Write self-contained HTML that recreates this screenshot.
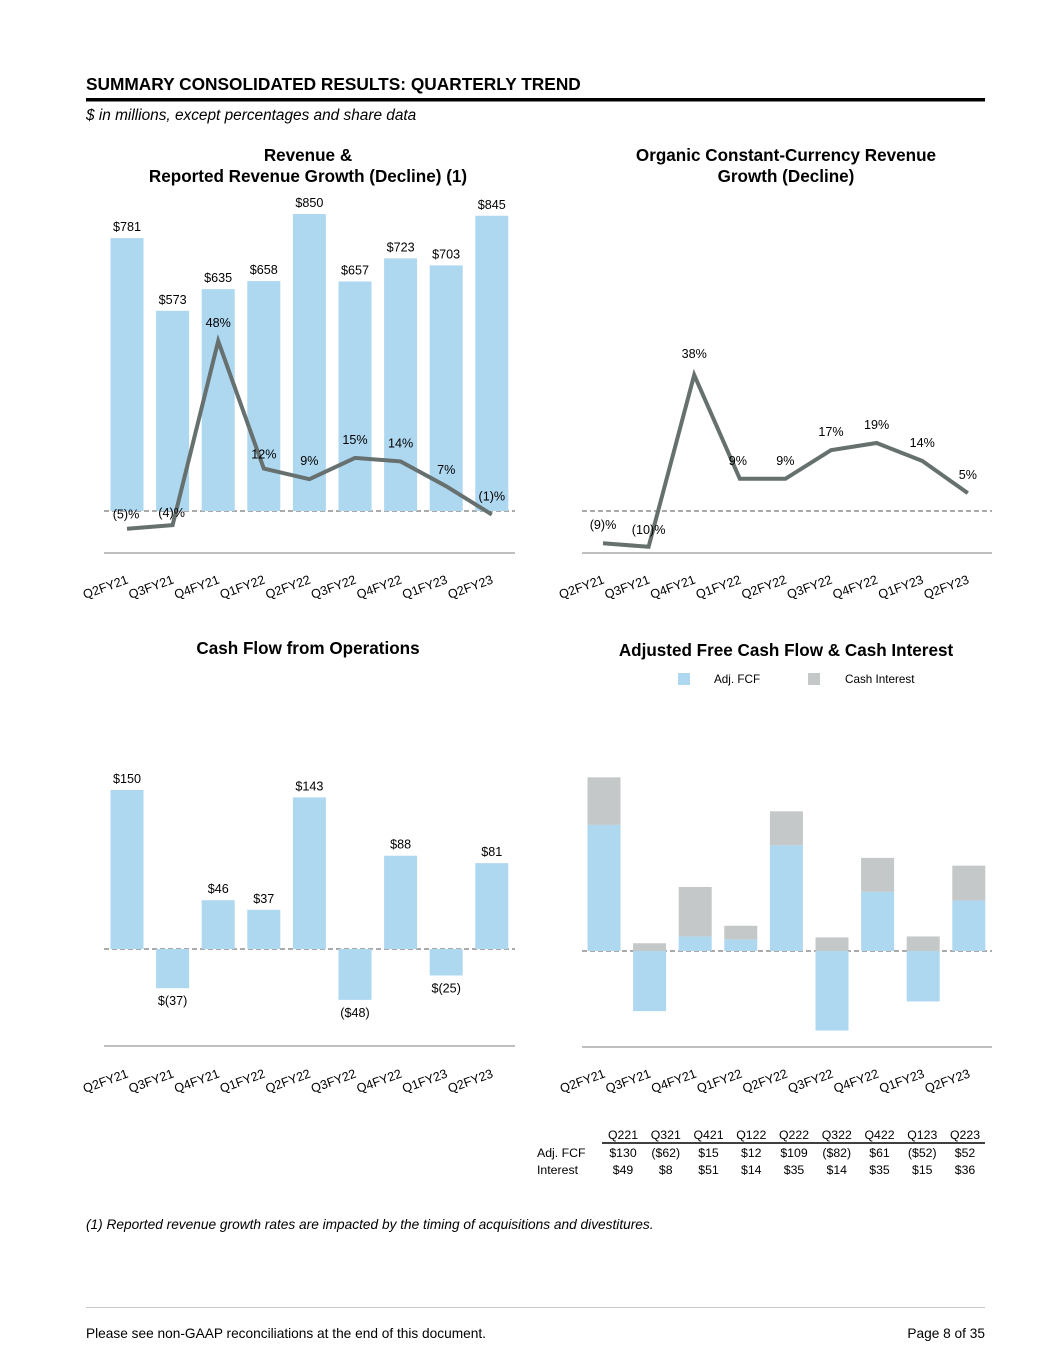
<!DOCTYPE html>
<html><head><meta charset="utf-8">
<style>
body{margin:0;background:#fff;}
svg{display:block;font-family:"Liberation Sans",Arial,sans-serif;}
</style></head>
<body>
<svg id="page" width="1055" height="1365" viewBox="0 0 1055 1365" xmlns="http://www.w3.org/2000/svg">
<text x="86" y="90" font-size="17.3" font-weight="bold" fill="#000">SUMMARY CONSOLIDATED RESULTS: QUARTERLY TREND</text>
<rect x="86" y="98" width="899" height="3.5" fill="#000"/>
<text x="86" y="120" font-size="15.4" font-style="italic" fill="#000">$ in millions, except percentages and share data</text>

<text x="308" y="161" font-size="17.1" font-weight="bold" text-anchor="middle">Revenue &amp;</text>
<text x="308" y="182" font-size="17.1" font-weight="bold" text-anchor="middle">Reported Revenue Growth (Decline) (1)</text>
<text x="786" y="161" font-size="17.1" font-weight="bold" text-anchor="middle">Organic Constant-Currency Revenue</text>
<text x="786" y="182" font-size="17.1" font-weight="bold" text-anchor="middle">Growth (Decline)</text>
<text x="308" y="654" font-size="17.1" font-weight="bold" text-anchor="middle">Cash Flow from Operations</text>
<text x="786" y="656" font-size="17.1" font-weight="bold" text-anchor="middle">Adjusted Free Cash Flow &amp; Cash Interest</text>

<rect x="678" y="673" width="12" height="12" fill="#aed7f0"/>
<text x="714" y="683" font-size="11.7">Adj. FCF</text>
<rect x="808" y="673" width="12" height="12" fill="#c4c8c8"/>
<text x="845" y="683" font-size="11.7">Cash Interest</text>

<g id="c1"></g>
<g id="c2"></g>
<g id="c3"></g>
<g id="c4"></g>
<g id="tbl"></g>

<text x="86" y="1229" font-size="13.7" font-style="italic">(1) Reported revenue growth rates are impacted by the timing of acquisitions and divestitures.</text>
<rect x="86" y="1307" width="899" height="1" fill="#c8c8c8"/>
<text x="86" y="1338" font-size="13.7">Please see non-GAAP reconciliations at the end of this document.</text>
<text x="985" y="1338" font-size="13.7" text-anchor="end">Page 8 of 35</text>
</svg>
<script>
const quarters = ["Q2FY21","Q3FY21","Q4FY21","Q1FY22","Q2FY22","Q3FY22","Q4FY22","Q1FY23","Q2FY23"];
const revenue = [781,573,635,658,850,657,723,703,845];
const revenueLabels = ["$781","$573","$635","$658","$850","$657","$723","$703","$845"];
const reportedGrowth = [-5,-4,48,12,9,15,14,7,-1];
const reportedGrowthLabels = ["(5)%","(4)%","48%","12%","9%","15%","14%","7%","(1)%"];
const organicGrowth = [-9,-10,38,9,9,17,19,14,5];
const organicGrowthLabels = ["(9)%","(10)%","38%","9%","9%","17%","19%","14%","5%"];
const cfo = [150,-37,46,37,143,-48,88,-25,81];
const cfoLabels = ["$150","$(37)","$46","$37","$143","($48)","$88","$(25)","$81"];
const tableCols = ["Q221","Q321","Q421","Q122","Q222","Q322","Q422","Q123","Q223"];
const adjFcf = [130,-62,15,12,109,-82,61,-52,52];
const cashInterest = [49,8,51,14,35,14,35,15,36];

const NS="http://www.w3.org/2000/svg";
function mk(parent,tag,attrs,txt){const e=document.createElementNS(NS,tag);for(const k in attrs)e.setAttribute(k,attrs[k]);if(txt!==undefined)e.textContent=txt;parent.appendChild(e);return e;}
const BLUE="#aed7f0",GREY="#c4c8c8",LINE="#66706e";
function xAt(x0,i){return x0+i*45.6;}
function fmt(v){return v<0?"($"+(-v)+")":"$"+v;}

function axes(g,x0,zeroY,axisY,left,right,labelY){
  let z=mk(g,"line",{x1:left,x2:right,y1:zeroY,y2:zeroY,stroke:"#555","stroke-width":1,"stroke-dasharray":"5,3"});
  
  
  let a=mk(g,"line",{x1:left,x2:right,y1:axisY,y2:axisY,stroke:"#aaa","stroke-width":1.5});
  
  
  quarters.forEach((q,i)=>{const cx=xAt(x0,i);
    let t=mk(g,"text",{x:cx+2,y:labelY,"font-size":12.6,"text-anchor":"end",transform:`rotate(-20 ${cx+2} ${labelY})`},q);
    
    
  });
}
function bars(g,x0,zeroY,scale,vals,labs){
  vals.forEach((v,i)=>{const cx=xAt(x0,i),h=Math.abs(v)*scale,y=v>=0?zeroY-h:zeroY;
    let r=mk(g,"rect",{x:cx-16.5,y:y,width:33,height:h,fill:BLUE});
    
    
    if(labs){let ly=v>=0?y-7:y+h+17;
      let t=mk(g,"text",{x:cx,y:ly,"font-size":12.6,"text-anchor":"middle"},labs[i]);
      
      }
  });
}
function line(g,x0,zeroY,scale,vals,labs,offs){
  const pts=vals.map((v,i)=>[xAt(x0,i),zeroY-v*scale]);
  let p=mk(g,"polyline",{points:pts.map(p=>p.join(",")).join(" "),fill:"none",stroke:LINE,"stroke-width":4,"stroke-linejoin":"miter"});
  
  
  pts.forEach((pt,i)=>{const o=offs[i];
    let t=mk(g,"text",{x:pt[0]+o[0],y:pt[1]+o[1],"font-size":12.6,"text-anchor":"middle"},labs[i]);
    
    });
}
// Chart 1
const g1=document.getElementById("c1");
axes(g1,127,511,553,104,515,583);
bars(g1,127,511,0.3494,revenue,revenueLabels);
line(g1,127,511,3.54,reportedGrowth,reportedGrowthLabels,[[-1,-10],[-1,-8],[0,-14],[0,-10],[0,-14],[0,-14],[0,-14],[0,-12],[0,-14]]);
// Chart 2
const g2=document.getElementById("c2");
axes(g2,603,511,553,582,992,583);
line(g2,603,511,3.58,organicGrowth,organicGrowthLabels,[[0,-14],[0,-13],[0,-17],[-2,-14],[0,-14],[0,-14],[0,-14],[0,-14],[0,-14]]);
// Chart 3
const g3=document.getElementById("c3");
axes(g3,127,949,1046,104,515,1077);
bars(g3,127,949,1.06,cfo,cfoLabels);
// Chart 4
const g4=document.getElementById("c4");
axes(g4,604,951,1047,582,992,1077);
const s4=0.97;
adjFcf.forEach((v,i)=>{const cx=xAt(604,i),base=Math.max(v,0);
  const h=Math.abs(v)*s4,y=v>=0?951-h:951;
  let r=mk(g4,"rect",{x:cx-16.5,y:y,width:33,height:h,fill:BLUE});
  
  
  const ih=cashInterest[i]*s4;
  let r2=mk(g4,"rect",{x:cx-16.5,y:951-base*s4-ih,width:33,height:ih,fill:GREY});
  
  
});
// Table
const tg=document.getElementById("tbl");
tableCols.forEach((c,i)=>{const cx=623+i*42.75;
  let h=mk(tg,"text",{x:cx,y:1139,"font-size":12.3,"text-anchor":"middle"},c);
  
  
  let a=mk(tg,"text",{x:cx,y:1157,"font-size":12.3,"text-anchor":"middle"},fmt(adjFcf[i]));
  
  
  let b=mk(tg,"text",{x:cx,y:1174,"font-size":12.3,"text-anchor":"middle"},fmt(cashInterest[i]));
  
  
});
let tl=mk(tg,"line",{x1:602,x2:985,y1:1143,y2:1143,stroke:"#000","stroke-width":1.5});


let r1=mk(tg,"text",{x:537,y:1157,"font-size":12.3},"Adj. FCF");


let r2=mk(tg,"text",{x:537,y:1174,"font-size":12.3},"Interest");


</script>
</body></html>
